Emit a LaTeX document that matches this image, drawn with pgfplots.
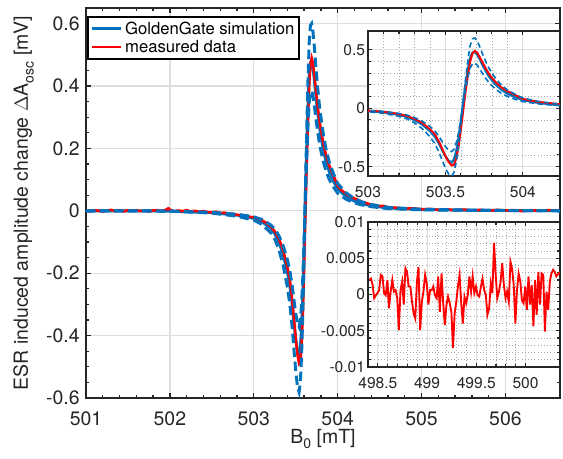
\documentclass[border=0pt]{standalone}
\usepackage{pgfplots}
\pgfplotsset{compat=1.18}
\usepackage{pgfplotstable}
\usepackage{fontspec}
\setmainfont{TeX Gyre Heros}
\definecolor{mblue}{rgb}{0,0.447,0.741}
\definecolor{mgrid}{rgb}{0.87,0.87,0.87}
\definecolor{maxis}{rgb}{0.15,0.15,0.15}
\newcommand\msub[1]{\raisebox{-0.55ex}{\fontsize{10.5}{12}\selectfont #1}}

\pgfplotstableread{
x y
501.00 0.001
501.05 -0.002
501.10 0.002
501.15 0.000
501.20 -0.002
501.25 0.001
501.30 0.003
501.35 -0.001
501.40 0.001
501.45 -0.002
501.50 0.002
501.55 0.000
501.60 0.002
501.65 -0.001
501.70 0.001
501.75 -0.002
501.80 0.001
501.85 0.002
501.90 -0.001
501.95 0.003
501.98 0.008
502.00 0.004
502.05 -0.002
502.10 0.001
502.15 -0.001
502.20 0.002
502.25 -0.002
502.30 0.000
502.35 -0.003
502.40 -0.001
502.45 -0.004
502.50 -0.005
502.55 -0.003
502.60 -0.007
502.65 -0.006
502.70 -0.009
502.75 -0.010
502.80 -0.013
502.85 -0.014
502.90 -0.016
502.95 -0.019
503.00 -0.021
503.05 -0.025
503.10 -0.031
503.15 -0.039
503.20 -0.050
503.25 -0.066
503.30 -0.090
503.35 -0.125
503.40 -0.180
503.43 -0.220
503.46 -0.290
503.48 -0.350
503.50 -0.410
503.52 -0.460
503.54 -0.490
503.555 -0.485
503.57 -0.430
503.585 -0.330
503.60 -0.180
503.615 -0.020
503.63 0.140
503.645 0.280
503.66 0.400
503.675 0.470
503.69 0.490
503.705 0.475
503.72 0.440
503.74 0.390
503.76 0.340
503.78 0.295
503.80 0.260
503.83 0.215
503.86 0.180
503.90 0.145
503.95 0.113
504.00 0.080
504.05 0.065
504.10 0.054
504.15 0.046
504.20 0.040
504.25 0.034
504.30 0.028
504.35 0.024
504.40 0.020
504.45 0.018
504.50 0.015
504.55 0.016
504.60 0.011
504.70 0.010
504.80 0.007
504.90 0.008
505.00 0.005
505.10 0.006
505.20 0.003
505.30 0.005
505.40 0.002
505.50 0.004
505.60 0.001
505.70 0.003
505.80 0.000
505.90 0.003
506.00 0.001
506.10 0.002
506.20 -0.001
506.30 0.002
506.40 0.000
506.50 0.002
506.65 0.001
}\redtab

\pgfplotstableread{
x y
501.00 0
501.50 0
502.00 -0.001
502.50 -0.006
502.80 -0.014
503.00 -0.024
503.10 -0.035
503.20 -0.056
503.25 -0.073
503.30 -0.100
503.35 -0.140
503.40 -0.195
503.43 -0.240
503.46 -0.305
503.48 -0.360
503.50 -0.410
503.52 -0.450
503.54 -0.465
503.555 -0.440
503.57 -0.370
503.585 -0.260
503.60 -0.110
503.615 0.050
503.63 0.200
503.645 0.330
503.66 0.430
503.675 0.475
503.69 0.480
503.705 0.460
503.72 0.425
503.74 0.370
503.76 0.320
503.78 0.275
503.80 0.240
503.83 0.195
503.86 0.160
503.90 0.125
503.95 0.095
504.00 0.070
504.10 0.046
504.20 0.031
504.30 0.022
504.40 0.016
504.60 0.009
505.00 0.004
505.50 0.002
506.00 0.001
506.65 0
}\bluetab

\pgfplotstableread{
x y
501.00 0
501.50 0
502.00 -0.001
502.50 -0.0075
502.80 -0.0175
503.00 -0.030
503.10 -0.044
503.20 -0.070
503.25 -0.091
503.30 -0.125
503.35 -0.175
503.40 -0.244
503.43 -0.300
503.46 -0.381
503.48 -0.450
503.50 -0.5125
503.52 -0.5625
503.54 -0.581
503.555 -0.550
503.57 -0.4625
503.585 -0.325
503.60 -0.1375
503.615 0.0625
503.63 0.250
503.645 0.4125
503.66 0.5375
503.675 0.594
503.69 0.600
503.705 0.575
503.72 0.531
503.74 0.4625
503.76 0.400
503.78 0.344
503.80 0.300
503.83 0.244
503.86 0.200
503.90 0.156
503.95 0.119
504.00 0.0875
504.10 0.0575
504.20 0.039
504.30 0.0275
504.40 0.020
504.60 0.011
505.00 0.005
505.50 0.0025
506.00 0.0012
506.65 0
}\outertab

\pgfplotstableread{
x y
501.00 0
501.50 0
502.00 -0.001
502.50 -0.005
502.80 -0.011
503.00 -0.019
503.10 -0.028
503.20 -0.045
503.25 -0.058
503.30 -0.080
503.35 -0.112
503.40 -0.156
503.43 -0.192
503.46 -0.244
503.48 -0.288
503.50 -0.328
503.52 -0.360
503.54 -0.372
503.555 -0.352
503.57 -0.296
503.585 -0.208
503.60 -0.088
503.615 0.040
503.63 0.160
503.645 0.264
503.66 0.344
503.675 0.380
503.69 0.384
503.705 0.368
503.72 0.340
503.74 0.296
503.76 0.256
503.78 0.220
503.80 0.192
503.83 0.156
503.86 0.128
503.90 0.100
503.95 0.076
504.00 0.056
504.10 0.037
504.20 0.025
504.30 0.018
504.40 0.013
504.60 0.007
505.00 0.003
505.50 0.0016
506.00 0.0008
506.65 0
}\innertab

\pgfplotstableread{
x y
498.413 0.0020
498.430 0.0022
498.447 0.0013
498.463 -0.0005
498.480 -0.0001
498.497 0.0002
498.513 0.0006
498.530 0.0027
498.547 0.0025
498.563 0.0002
498.580 -0.0001
498.597 0.0020
498.613 -0.0019
498.630 0.0004
498.647 0.0020
498.663 0.0004
498.680 0.0006
498.697 -0.0005
498.713 -0.0049
498.730 0.0006
498.747 0.0018
498.763 -0.0014
498.780 0.0036
498.797 0.0031
498.813 0.0011
498.830 0.0011
498.847 -0.0010
498.863 -0.0026
498.880 -0.0033
498.897 0.0018
498.913 0.0038
498.930 -0.0049
498.947 -0.0010
498.963 0.0004
498.980 0.0027
498.997 0.0015
499.013 -0.0014
499.030 0.0006
499.047 0.0006
499.063 0.0011
499.080 -0.0001
499.097 -0.0005
499.113 0.0025
499.130 -0.0024
499.147 0.0029
499.163 -0.0010
499.180 -0.0042
499.197 -0.0014
499.213 -0.0003
499.230 -0.0012
499.247 -0.0024
499.263 -0.0074
499.280 -0.0026
499.297 -0.0010
499.313 0.0011
499.330 0.0027
499.347 -0.0012
499.363 -0.0040
499.380 -0.0003
499.397 -0.0012
499.413 -0.0001
499.430 0.0025
499.447 0.0004
499.463 0.0025
499.480 0.0002
499.497 0.0011
499.513 -0.0001
499.530 -0.0003
499.547 0.0011
499.563 0.0022
499.580 0.0006
499.597 -0.0001
499.613 -0.0028
499.630 -0.0019
499.647 0.0015
499.663 0.0002
499.680 0.0071
499.697 0.0027
499.713 -0.0005
499.730 0.0004
499.747 0.0018
499.763 0.0043
499.780 0.0013
499.797 -0.0005
499.813 0.0004
499.830 -0.0010
499.847 0.0045
499.863 0.0036
499.880 0.0013
499.897 -0.0040
499.913 0.0006
499.930 0.0029
499.947 0.0018
499.963 -0.0008
499.980 -0.0012
499.997 0.0011
500.013 -0.0021
500.030 0.0025
500.047 -0.0014
500.063 0.0013
500.080 -0.0044
500.097 0.0020
500.113 -0.0028
500.130 0.0031
500.147 -0.0014
500.163 0.0029
500.180 0.0027
500.197 -0.0051
500.213 0.0004
500.230 -0.0021
500.247 0.0018
500.263 0.0029
500.280 0.0034
500.297 0.0031
500.313 0.0025
500.330 0.0028
500.350 0.0030
}\noisetab

\begin{document}
\begin{tikzpicture}
\path[use as bounding box] (-64.5pt,-45.75pt) rectangle (357.75pt,298.5pt);
\begin{axis}[
  at={(0pt,0pt)}, anchor=south west,
  width=355.5pt, height=292.5pt, scale only axis,
  scaled ticks=false,
  xmin=501, xmax=506.65, ymin=-0.6, ymax=0.65,
  xtick={501,502,503,504,505,506},
  xticklabels={501,502,503,504,505,506},
  ytick={-0.6,-0.4,-0.2,0,0.2,0.4,0.6},
  yticklabels={-0.6,-0.4,-0.2,0,0.2,0.4,0.6},
  minor x tick num=4, minor y tick num=3,
  tick align=inside, major tick length=4pt, minor tick length=2.5pt,
  grid=major, major grid style={mgrid, line width=1pt},
  axis line style={maxis, line width=1.3pt},
  every tick/.style={maxis, line width=1pt},
  tick label style={font=\fontsize{14.6}{16}\selectfont, text=maxis},
  xticklabel style={inner sep=0pt, anchor=north, yshift=-10pt},
  yticklabel style={inner sep=0pt, anchor=east, xshift=-4.5pt},
  xlabel={B\msub{0} [mT]},
  ylabel={ESR induced amplitude change $\Delta$A\msub{osc} [mV]},
  label style={font=\fontsize{14.6}{16}\selectfont, text=maxis},
  xlabel style={at={(axis description cs:0.5,-0.1154)}, anchor=base, inner sep=0pt},
  ylabel style={at={(axis description cs:-0.1224,0.5)}, anchor=base, inner sep=0pt},
  legend style={at={(axis description cs:0.003,0.979)}, anchor=north west,
    draw=black, line width=1.2pt, fill=white,
    font=\fontsize{12.5}{14}\selectfont, inner sep=1.5pt, row sep=-1pt,
    cells={anchor=west}},
  legend image code/.code={\draw[#1] (0pt,0pt) -- (22pt,0pt);},
]
\addplot[mblue, line width=2.2pt] table[x=x,y=y] {\bluetab};
\addlegendentry{GoldenGate simulation}
\addplot[red, line width=1.9pt] table[x=x,y=y] {\redtab};
\addlegendentry{measured data}
\addplot[mblue, line width=2.2pt, dash pattern=on 7pt off 3.5pt, forget plot] table[x=x,y=y] {\outertab};
\addplot[mblue, line width=2.2pt, dash pattern=on 7pt off 3.5pt, forget plot] table[x=x,y=y] {\innertab};
\end{axis}

\begin{axis}[
  at={(211.5pt,166.5pt)}, anchor=south west,
  width=144pt, height=108.75pt, scale only axis,
  scaled ticks=false,
  axis background/.style={fill=white},
  xmin=503, xmax=504.24, ymin=-0.58, ymax=0.66,
  xtick={503,503.5,504}, xticklabels={503,503.5,504},
  ytick={-0.5,0,0.5}, yticklabels={-0.5,0,0.5},
  minor x tick num=4, minor y tick num=4,
  tick align=inside, major tick length=3pt, minor tick length=2pt,
  grid=both, major grid style={mgrid, line width=0.8pt},
  minor grid style={black!35, dotted, line width=0.5pt},
  axis line style={maxis, line width=1.1pt},
  every tick/.style={maxis, line width=0.8pt},
  tick label style={font=\fontsize{11.7}{13}\selectfont, text=maxis},
  xticklabel style={inner sep=0pt, anchor=north, yshift=-8pt},
  yticklabel style={inner sep=0pt, anchor=east, xshift=-2pt},
]
\addplot[mblue, line width=1.8pt] table[x=x,y=y] {\bluetab};
\addplot[red, line width=1.5pt] table[x=x,y=y] {\redtab};
\addplot[mblue, line width=1.2pt, dash pattern=on 4pt off 2.5pt] table[x=x,y=y] {\outertab};
\addplot[mblue, line width=1.2pt, dash pattern=on 4pt off 2.5pt] table[x=x,y=y] {\innertab};
\end{axis}

\begin{axis}[
  at={(211.5pt,23.25pt)}, anchor=south west,
  width=144pt, height=108.75pt, scale only axis,
  scaled ticks=false,
  axis background/.style={fill=white},
  xmin=498.4, xmax=500.35, ymin=-0.01, ymax=0.01,
  xtick={498.5,499,499.5,500}, xticklabels={498.5,499,499.5,500},
  ytick={-0.01,-0.005,0,0.005,0.01}, yticklabels={-0.01,-0.005,0,0.005,0.01},
  minor x tick num=4, minor y tick num=4,
  tick align=inside, major tick length=3pt, minor tick length=2pt,
  grid=both, major grid style={mgrid, line width=0.8pt},
  minor grid style={black!35, dotted, line width=0.5pt},
  axis line style={maxis, line width=1.1pt},
  every tick/.style={maxis, line width=0.8pt},
  tick label style={font=\fontsize{11.7}{13}\selectfont, text=maxis},
  xticklabel style={inner sep=0pt, anchor=north, yshift=-8pt},
  yticklabel style={inner sep=0pt, anchor=east, xshift=-2pt},
]
\addplot[red, line width=1.4pt] table[x=x,y=y] {\noisetab};
\end{axis}
\end{tikzpicture}
\end{document}
